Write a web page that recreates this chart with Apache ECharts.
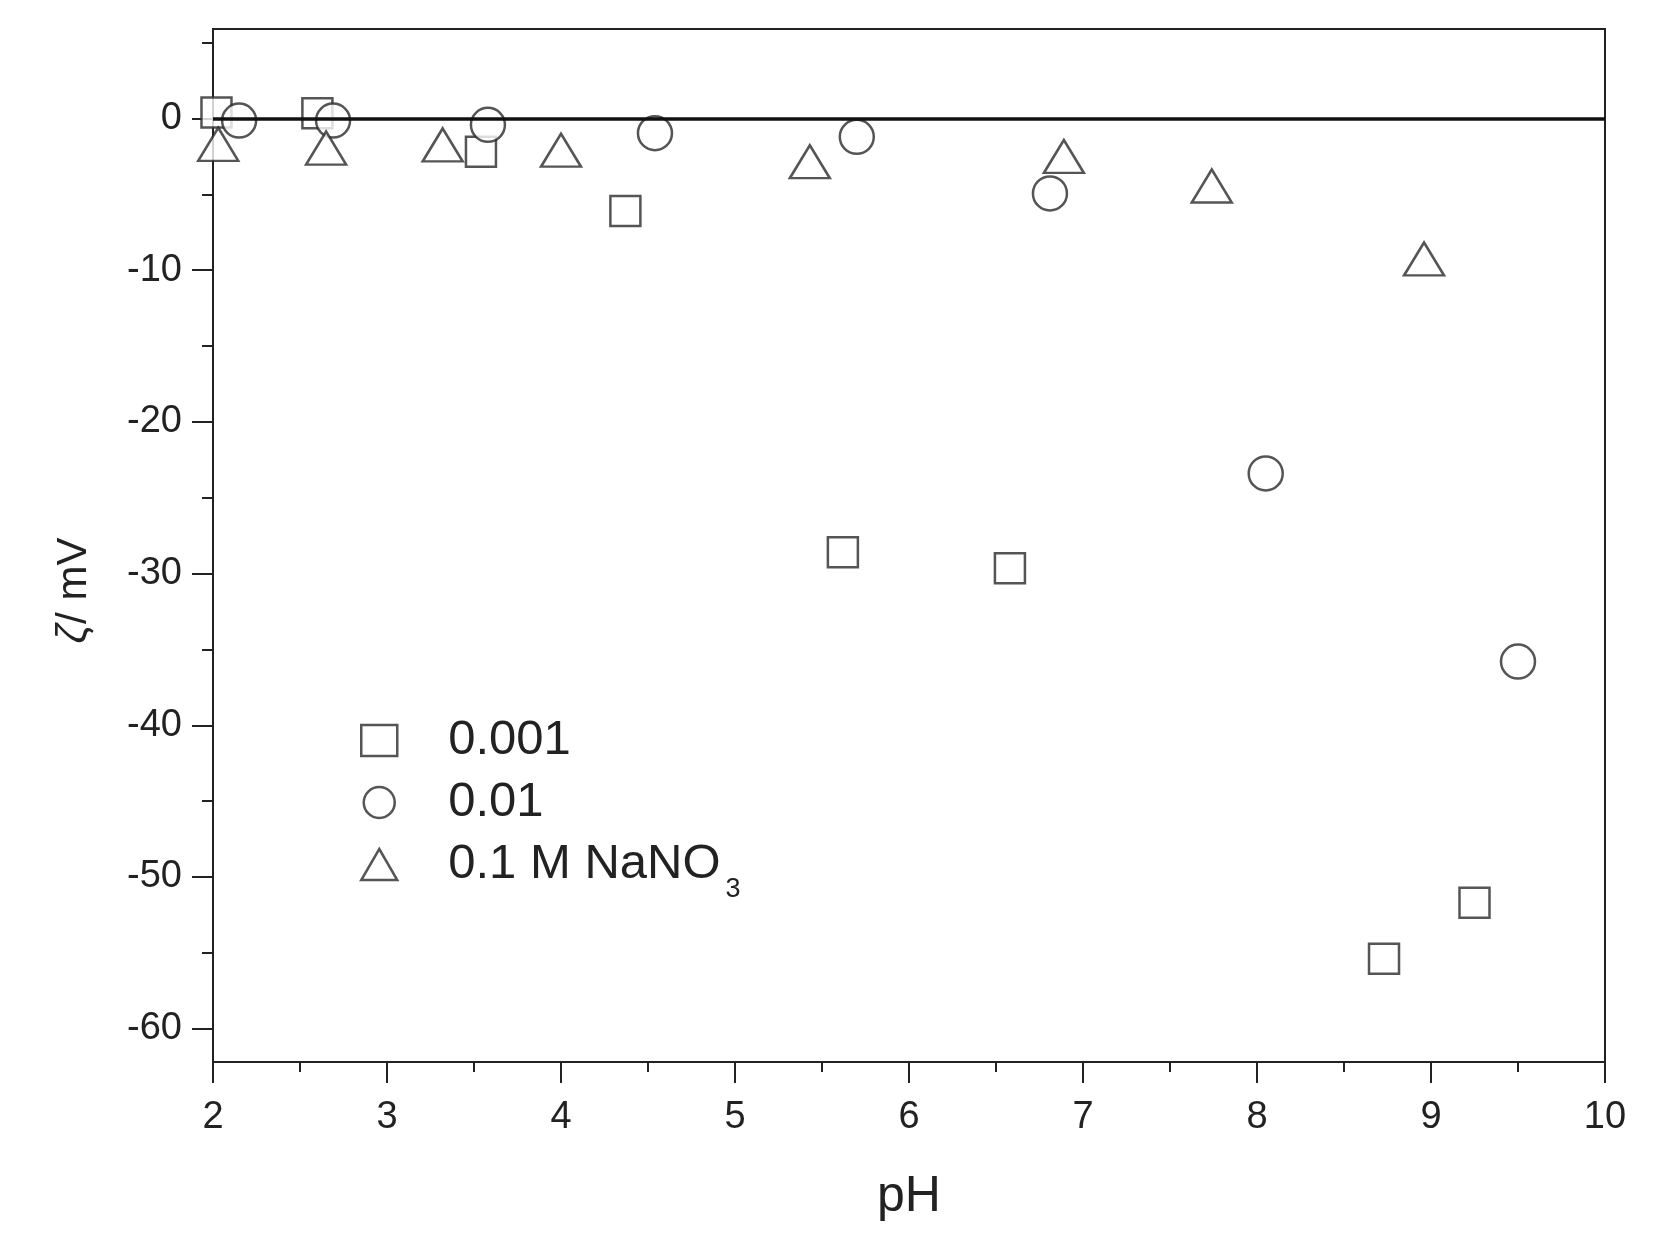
<!DOCTYPE html>
<html>
<head>
<meta charset="utf-8">
<script src="https://cdn.jsdelivr.net/npm/echarts@6/dist/echarts.min.js"></script>
<style>
  html, body { margin: 0; padding: 0; background: #fff; }
  #chart { width: 1656px; height: 1254px; }
</style>
</head>
<body>
<div id="chart"></div>
<script>
// pH / zeta potential (mV)
const seriesNames = ["0.001", "0.01", "0.1 M NaNO3"];

const pH001 = [2.02, 2.60, 3.54, 4.37, 5.62, 6.58, 8.73, 9.25];
const zeta001 = [0.4, 0.35, -2.2, -6.1, -28.6, -29.65, -55.4, -51.7];

const pH01 = [2.15, 2.69, 3.58, 4.54, 5.70, 6.81, 8.05, 9.50];
const zeta01 = [-0.14, -0.14, -0.42, -0.97, -1.21, -4.94, -23.4, -35.8];

const pH1 = [2.03, 2.65, 3.32, 4.00, 5.43, 6.89, 7.74, 8.96];
const zeta1 = [-1.7, -1.95, -1.74, -2.09, -2.85, -2.5, -4.45, -9.26];

const yMajorTicks = [0, -10, -20, -30, -40, -50, -60];
const yMinorTicks = [5, -5, -15, -25, -35, -45, -55];

function pairs(xs, ys) {
  return xs.map((x, i) => [x, ys[i]]);
}

const font = "Liberation Sans";
const ink = "#222";
const markStyle = { color: "#fff", borderColor: "#2a2a2a", borderWidth: 2.5 };

const chart = echarts.init(document.getElementById("chart"));

const option = {
  animation: false,
  backgroundColor: "#fff",
  textStyle: { fontFamily: font },
  grid: {
    left: 213, right: 51, top: 29, bottom: 192,
    show: true, borderColor: ink, borderWidth: 2, backgroundColor: "transparent"
  },
  legend: {
    orient: "vertical",
    left: 355, top: 711,
    itemWidth: 36, itemHeight: 31,
    itemGap: 13,
    data: [
      { name: seriesNames[0], icon: "rect" },
      { name: seriesNames[1], icon: "circle" },
      { name: seriesNames[2], icon: "triangle" }
    ],
    itemStyle: markStyle,
    formatter: function (name) {
      if (name === "0.1 M NaNO3") return "{gap|}0.1 M NaNO{sub|3}";
      return "{gap|}" + name;
    },
    textStyle: {
      fontFamily: font, fontSize: 49, color: ink,
      rich: {
        gap: { width: 46 },
        sub: { fontSize: 27, color: ink, fontFamily: font, padding: [50, 0, 0, 5] }
      }
    }
  },
  xAxis: {
    type: "value",
    min: 2, max: 10, interval: 1,
    name: "pH",
    nameLocation: "middle",
    nameGap: 110,
    nameTextStyle: { fontSize: 50, color: ink, fontFamily: font },
    axisLine: { show: true, onZero: false, lineStyle: { color: ink, width: 2 } },
    axisTick: { show: true, length: 21, lineStyle: { color: ink, width: 2 } },
    minorTick: { show: true, splitNumber: 2, length: 10, lineStyle: { color: ink, width: 2 } },
    axisLabel: { fontSize: 38, color: ink, margin: 37, fontFamily: font },
    splitLine: { show: false }
  },
  yAxis: [
    {
      type: "value",
      position: "left",
      min: -62.2, max: 5.9,
      name: "{i|ζ}/ mV",
      nameLocation: "middle",
      nameGap: 118,
      nameTextStyle: {
        fontSize: 42, color: ink, fontFamily: font, padding: [0, 90, 0, 0],
        rich: { i: { fontSize: 42, fontStyle: "italic", color: ink, fontFamily: font } }
      },
      axisLine: { show: true, onZero: false, lineStyle: { color: ink, width: 2 } },
      axisTick: { show: true, length: 21, customValues: yMajorTicks, lineStyle: { color: ink, width: 2 } },
      axisLabel: { fontSize: 38, color: ink, margin: 31, customValues: yMajorTicks, fontFamily: font },
      splitLine: { show: false }
    },
    {
      type: "value",
      position: "left",
      offset: 0,
      min: -62.2, max: 5.9,
      axisLine: { show: false },
      axisTick: { show: true, length: 11, customValues: yMinorTicks, lineStyle: { color: ink, width: 2 } },
      axisLabel: { show: false },
      splitLine: { show: false }
    }
  ],
  series: [
    {
      name: "zero",
      type: "line",
      data: [],
      z: 1,
      silent: true,
      markLine: {
        silent: true,
        symbol: "none",
        label: { show: false },
        lineStyle: { color: "#111", width: 3.5, type: "solid" },
        data: [{ yAxis: 0 }]
      }
    },
    {
      name: seriesNames[0],
      type: "scatter",
      z: 3,
      symbol: "rect",
      symbolSize: 30,
      itemStyle: markStyle,
      data: pairs(pH001, zeta001)
    },
    {
      name: seriesNames[1],
      type: "scatter",
      z: 4,
      symbol: "circle",
      symbolSize: 34,
      itemStyle: markStyle,
      data: pairs(pH01, zeta01)
    },
    {
      name: seriesNames[2],
      type: "scatter",
      z: 5,
      symbol: "triangle",
      symbolSize: [40, 33],
      itemStyle: markStyle,
      data: pairs(pH1, zeta1)
    }
  ]
};

chart.setOption(option);
</script>
</body>
</html>
